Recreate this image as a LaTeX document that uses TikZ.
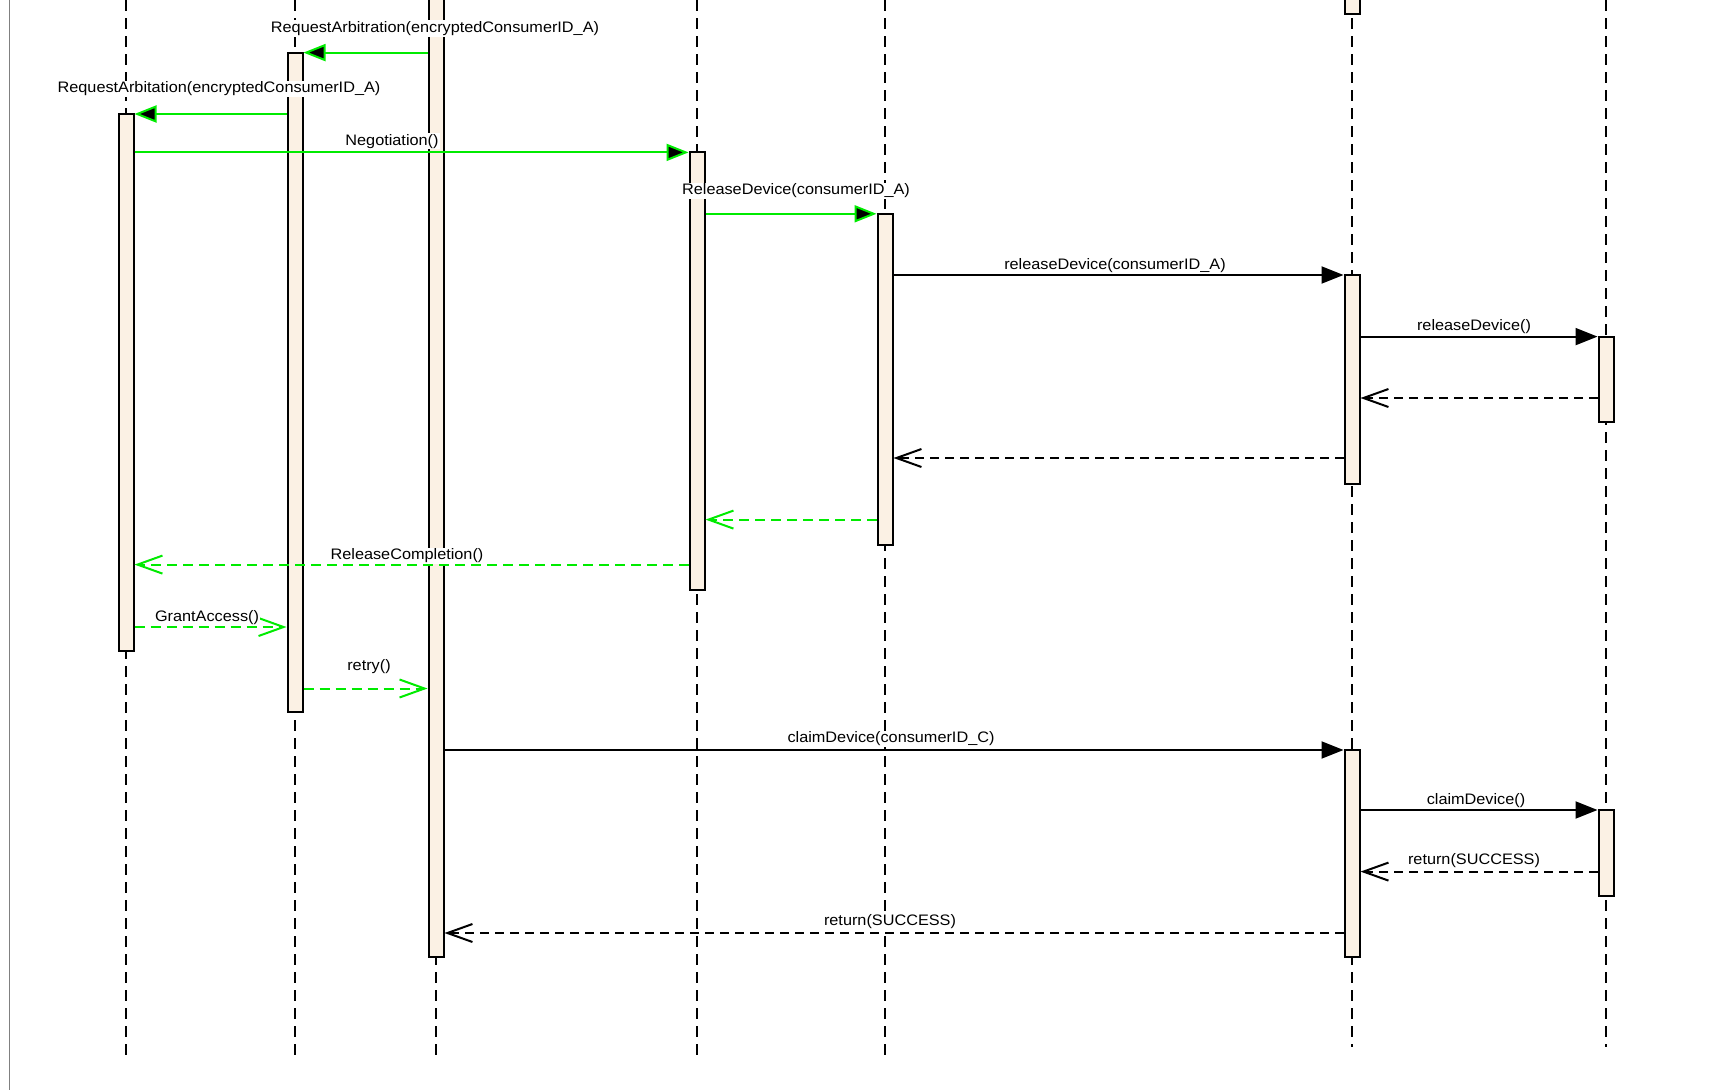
\documentclass[tikz,border=0pt]{standalone}
\usepackage{fontspec}
\setmainfont[FakeStretch=1.07]{Liberation Sans}
\usetikzlibrary{arrows.meta}
\definecolor{actfill}{RGB}{251,241,228}
\definecolor{msggreen}{RGB}{0,235,0}
\begin{document}
\begin{tikzpicture}[x=1pt,y=-1pt,font=\fontsize{15.2}{18}\selectfont,
  lifeline/.style={line width=2pt, dash pattern=on 11pt off 7pt},
  actbox/.style={draw, line width=2pt, fill=actfill, rectangle, minimum width=15pt, inner sep=0pt},
  call/.style={line width=2pt, -{Triangle[length=22pt,width=17pt,fill=black]}},
  gcall/.style={call, draw=msggreen},
  ret/.style={line width=2pt, dash pattern=on 9pt off 6pt, -{Straight Barb[length=25pt,width=18pt,line width=2pt]}},
  gret/.style={ret, draw=msggreen, dash pattern=on 10pt off 6pt},
  lbl/.style={fill=white, inner sep=1pt}]
\useasboundingbox (0,0) rectangle (1719,1090);
\clip (0,0) rectangle (1719,1090);
\draw[gray, line width=1pt] (9,0) -- (9,1090);
% lifelines
\coordinate (l1t) at (126,0);  \coordinate (l1b) at (126,1055);
\coordinate (l2t) at (295,0);  \coordinate (l2b) at (295,1055);
\coordinate (l3t) at (436,0);  \coordinate (l3b) at (436,1055);
\coordinate (l4t) at (697,0);  \coordinate (l4b) at (697,1055);
\coordinate (l5t) at (885,0);  \coordinate (l5b) at (885,1055);
\coordinate (l6t) at (1352,0); \coordinate (l6b) at (1352,1047);
\coordinate (l7t) at (1606,0); \coordinate (l7b) at (1606,1047);
\foreach \i in {1,...,7} \draw[lifeline] (l\i t) -- (l\i b);
% activation boxes
\node[actbox, minimum height=537pt]   (b1)  at (126,382.5) {};
\node[actbox, minimum height=659pt]   (b2)  at (295,382) {};
\node[actbox, minimum height=967pt]   (b3)  at (436,473.5) {};
\node[actbox, minimum height=437.6pt] (b4)  at (697,371.2) {};
\node[actbox, minimum height=331.2pt] (b5)  at (885,379.4) {};
\node[actbox, minimum height=24.3pt]  (b6t) at (1352,2.15) {};
\node[actbox, minimum height=208.5pt] (b6a) at (1352,379.25) {};
\node[actbox, minimum height=85.4pt]  (b7a) at (1606,379.3) {};
\node[actbox, minimum height=207pt]   (b6b) at (1352,853.5) {};
\node[actbox, minimum height=85.7pt]  (b7b) at (1606,852.85) {};
% messages
\draw[gcall] (b3.west |- 0,52.6)  -- (b2.east |- 0,52.6);
\draw[gcall] (b2.west |- 0,114)   -- (b1.east |- 0,114);
\draw[gcall] (b1.east |- 0,152.4) -- (b4.west |- 0,152.4);
\draw[gcall] (b4.east |- 0,213.8) -- (b5.west |- 0,213.8);
\draw[call]  (b5.east |- 0,275)   -- (b6a.west |- 0,275);
\draw[call]  (b6a.east |- 0,336.6) -- (b7a.west |- 0,336.6);
\draw[ret]   (b7a.west |- 0,398)  -- (b6a.east |- 0,398);
\draw[ret]   (b6a.west |- 0,458)  -- (b5.east |- 0,458);
\draw[gret]  (b5.west |- 0,519.6) -- (b4.east |- 0,519.6);
\draw[gret]  (b4.west |- 0,564.6) -- (b1.east |- 0,564.6);
\draw[gret]  (b1.east |- 0,627)   -- (b2.west |- 0,627);
\draw[gret]  (b2.east |- 0,688.5) -- (b3.west |- 0,688.5);
\draw[call]  (b3.east |- 0,750)   -- (b6b.west |- 0,750);
\draw[call]  (b6b.east |- 0,810)  -- (b7b.west |- 0,810);
\draw[ret]   (b7b.west |- 0,871.6) -- (b6b.east |- 0,871.6);
\draw[ret]   (b6b.west |- 0,933)  -- (b3.east |- 0,933);
% labels
\node[lbl] (t1)  at (435,28.5)  {RequestArbitration(encryptedConsumerID\_A)};
\node[lbl] (t2)  at (219,88.8)  {RequestArbitation(encryptedConsumerID\_A)};
\node[lbl] (t3)  at (392,141.4) {Negotiation()};
\node[lbl] (t4)  at (796,190.8) {ReleaseDevice(consumerID\_A)};
\node[lbl] (t5)  at (1115,265.3) {releaseDevice(consumerID\_A)};
\node[lbl] (t6)  at (1474,326.7) {releaseDevice()};
\node[lbl] (t7)  at (407,555.8) {ReleaseCompletion()};
\node[lbl] (t8)  at (207,617.2) {GrantAccess()};
\node[lbl] (t9)  at (369,666.6) {retry()};
\node[lbl] (t10) at (891,738.9) {claimDevice(consumerID\_C)};
\node[lbl] (t11) at (1476,800.3) {claimDevice()};
\node[lbl] (t12) at (1474,860.6) {return(SUCCESS)};
\node[lbl] (t13) at (890,922)   {return(SUCCESS)};
\end{tikzpicture}
\end{document}
